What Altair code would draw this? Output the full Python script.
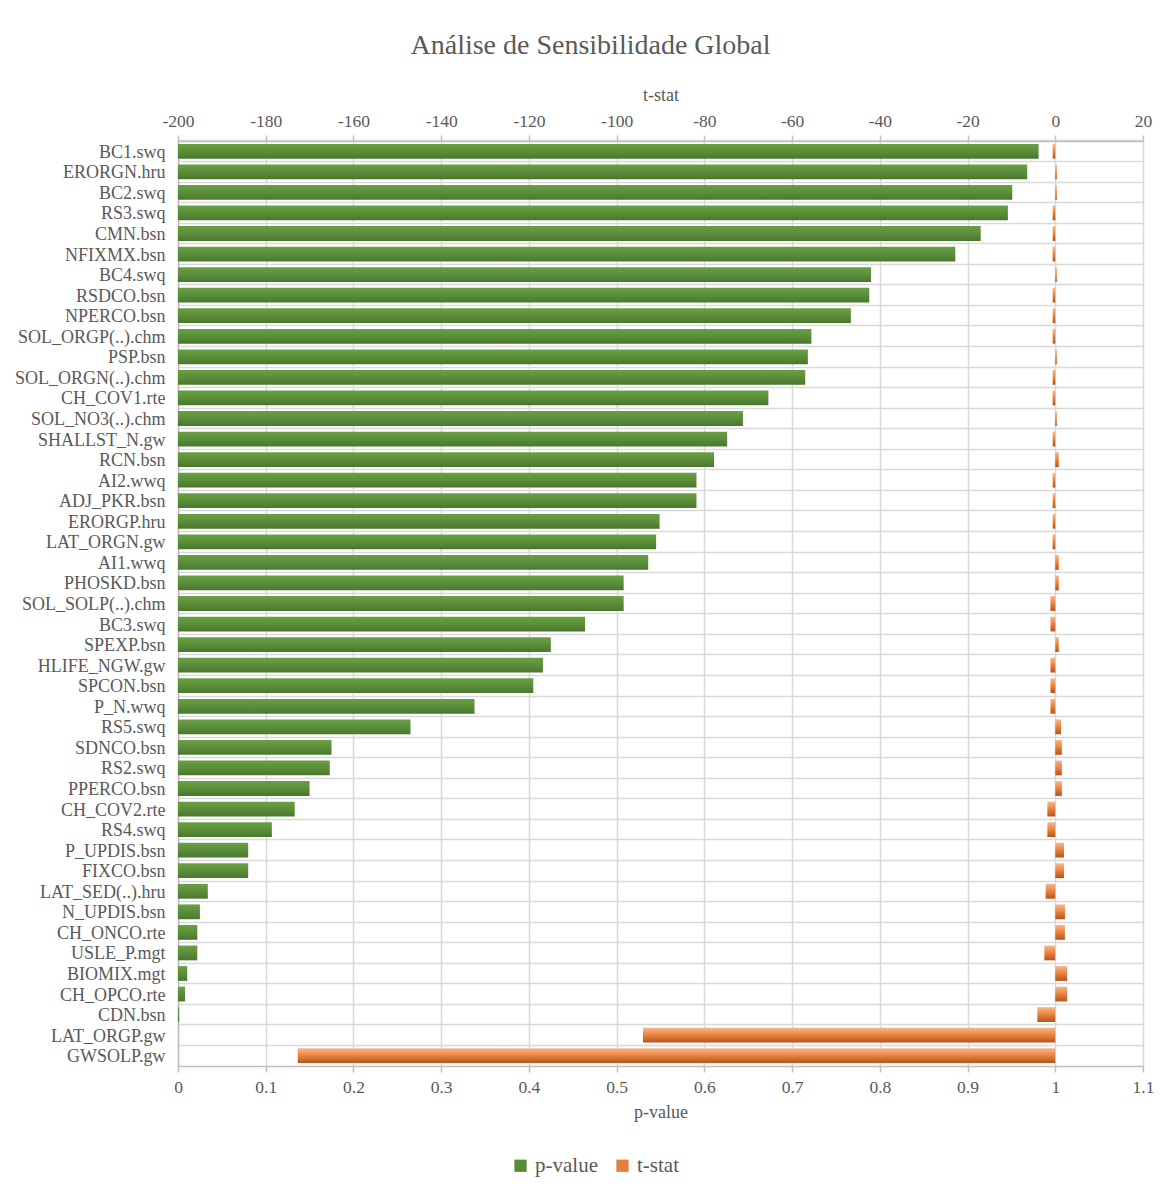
import altair as alt
import pandas as pd

# Parameters ranked by global sensitivity (top to bottom)
params = [
    "BC1.swq", "ERORGN.hru", "BC2.swq", "RS3.swq", "CMN.bsn", "NFIXMX.bsn",
    "BC4.swq", "RSDCO.bsn", "NPERCO.bsn", "SOL_ORGP(..).chm", "PSP.bsn",
    "SOL_ORGN(..).chm", "CH_COV1.rte", "SOL_NO3(..).chm", "SHALLST_N.gw",
    "RCN.bsn", "AI2.wwq", "ADJ_PKR.bsn", "ERORGP.hru", "LAT_ORGN.gw",
    "AI1.wwq", "PHOSKD.bsn", "SOL_SOLP(..).chm", "BC3.swq", "SPEXP.bsn",
    "HLIFE_NGW.gw", "SPCON.bsn", "P_N.wwq", "RS5.swq", "SDNCO.bsn",
    "RS2.swq", "PPERCO.bsn", "CH_COV2.rte", "RS4.swq", "P_UPDIS.bsn",
    "FIXCO.bsn", "LAT_SED(..).hru", "N_UPDIS.bsn", "CH_ONCO.rte",
    "USLE_P.mgt", "BIOMIX.mgt", "CH_OPCO.rte", "CDN.bsn", "LAT_ORGP.gw",
    "GWSOLP.gw",
]

p_values = [
    0.981, 0.968, 0.951, 0.946, 0.915, 0.886,
    0.790, 0.788, 0.767, 0.722, 0.718,
    0.715, 0.673, 0.644, 0.626,
    0.611, 0.591, 0.591, 0.549, 0.545,
    0.536, 0.508, 0.508, 0.464, 0.425,
    0.416, 0.405, 0.338, 0.265, 0.175,
    0.173, 0.150, 0.133, 0.107, 0.080,
    0.080, 0.034, 0.025, 0.022,
    0.022, 0.0105, 0.008, 0.0013, 0.0,
    0.0,
]

t_stats = [
    -0.6, 0.35, 0.35, -0.6, -0.6, -0.6,
    0.35, -0.6, -0.6, -0.6, 0.35,
    -0.6, -0.6, 0.35, -0.6,
    0.8, -0.6, -0.6, -0.6, -0.6,
    0.8, 0.8, -1.1, -1.1, 0.8,
    -1.1, -1.1, -1.1, 1.3, 1.5,
    1.5, 1.5, -1.8, -1.8, 2.0,
    2.0, -2.2, 2.2, 2.2,
    -2.5, 2.7, 2.7, -4.1, -94.0,
    -172.7,
]

p_ticks = [0, 0.1, 0.2, 0.3, 0.4, 0.5, 0.6, 0.7, 0.8, 0.9, 1, 1.1]
t_ticks = [-200, -180, -160, -140, -120, -100, -80, -60, -40, -20, 0, 20]

series_names = ["p-value", "t-stat"]
series_colors = ["#5a8b38", "#e47f3c"]

df = pd.DataFrame({"param": params, "p": p_values, "t": t_stats})
legend_df = pd.DataFrame({"serie": series_names})

FONT = "Liberation Serif"
TXT = "#595959"
GRID = "#d9d9d9"
LINE = "#bfbfbf"

green_fill = alt.Gradient(
    gradient="linear",
    stops=[
        alt.GradientStop(color="#6aa043", offset=0),
        alt.GradientStop(color="#5b8e3a", offset=0.5),
        alt.GradientStop(color="#4a772e", offset=1),
    ],
    x1=0, x2=0, y1=0, y2=1,
)
orange_fill = alt.Gradient(
    gradient="linear",
    stops=[
        alt.GradientStop(color="#f6b88e", offset=0),
        alt.GradientStop(color="#ec8743", offset=0.45),
        alt.GradientStop(color="#b5541b", offset=1),
    ],
    x1=0, x2=0, y1=0, y2=1,
)

# plain hyphen for negative tick labels
hyphen_labels = "datum.value < 0 ? '-' + abs(datum.value) : '' + datum.value"

y_enc = alt.Y(
    "param:N",
    sort=params,
    title=None,
    scale=alt.Scale(paddingInner=0, paddingOuter=0),
    axis=alt.Axis(
        labelFont=FONT, labelFontSize=18, labelColor=TXT, labelPadding=13,
        labelOffset=1.5,
        ticks=False, domainColor=LINE, domainWidth=1.5,
        grid=True, gridColor=GRID, gridWidth=1.5, bandPosition=0,
    ),
)

base = alt.Chart(df)

p_bars = base.mark_bar(height=alt.RelativeBandSize(0.72), fill=green_fill).encode(
    x=alt.X(
        "p:Q",
        scale=alt.Scale(domain=[0, 1.1], nice=False, zero=False),
        axis=alt.Axis(
            orient="bottom", title="p-value", values=p_ticks,
            labelExpr=hyphen_labels, labelFlush=False, labelOverlap=False,
            labelFont=FONT, labelFontSize=17.5, labelColor=TXT, labelPadding=6,
            titleFont=FONT, titleFontSize=18, titleColor=TXT, titleFontWeight="normal",
            titlePadding=8, tickSize=6, tickColor=LINE, tickWidth=1.5,
            domainColor=LINE, domainWidth=1.5,
            grid=True, gridColor=GRID, gridWidth=1.5,
        ),
    ),
    y=y_enc,
)

t_bars = base.mark_bar(height=alt.RelativeBandSize(0.72), fill=orange_fill).encode(
    x=alt.X(
        "t:Q",
        scale=alt.Scale(domain=[-200, 20], nice=False),
        axis=alt.Axis(
            orient="top", title="t-stat", values=t_ticks,
            labelExpr=hyphen_labels, labelFlush=False, labelOverlap=False,
            labelFont=FONT, labelFontSize=17.5, labelColor=TXT, labelPadding=5,
            titleFont=FONT, titleFontSize=18, titleColor=TXT, titleFontWeight="normal",
            titlePadding=8, tickSize=6, tickColor=LINE, tickWidth=1.5,
            domainColor=LINE, domainWidth=1.5, grid=False,
        ),
    ),
    x2=alt.datum(0),
    y=y_enc,
)

legend_layer = alt.Chart(legend_df).mark_square(opacity=0).encode(
    color=alt.Color(
        "serie:N",
        scale=alt.Scale(domain=series_names, range=series_colors),
        legend=alt.Legend(
            title=None, orient="none", direction="horizontal",
            legendX=332, legendY=1014,
            symbolType="square", symbolSize=150, symbolOpacity=1,
            symbolStrokeWidth=0, labelFont=FONT, labelFontSize=21,
            labelColor=TXT, labelOffset=4, columnPadding=14,
        ),
    ),
)

chart = (
    alt.layer(p_bars, t_bars, legend_layer)
    .resolve_scale(x="independent", color="independent")
    .properties(
        width=965,
        height=925,
        padding={"left": 178, "top": 141, "right": 23, "bottom": 123},
        autosize=alt.AutoSizeParams(type="none"),
        title=alt.TitleParams(
            "Análise de Sensibilidade Global",
            font=FONT, fontSize=28, color=TXT, fontWeight="normal",
            anchor="middle", dx=-70, offset=26,
        ),
        background="white",
    )
    .configure_view(stroke=None)
)

chart.save("out.html", embed_options={"renderer": "svg", "actions": False})
